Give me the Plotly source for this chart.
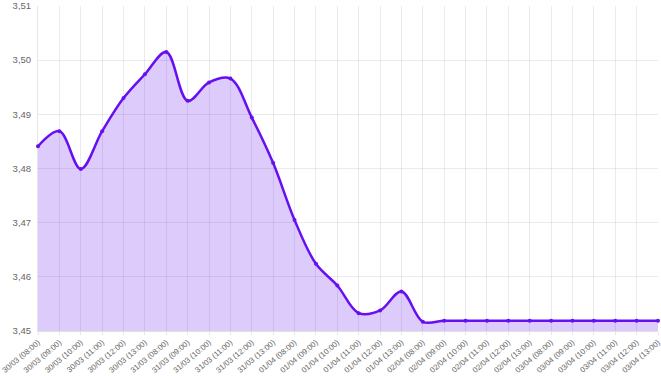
import plotly.graph_objects as go

days = ["30/03", "31/03", "01/04", "02/04", "03/04"]
hours = ["08:00", "09:00", "10:00", "11:00", "12:00", "13:00"]
labels = [f"{d} ({h})" for d in days for h in hours]

values = [3.4841, 3.4869, 3.4799, 3.4869, 3.4930, 3.4974,
          3.5015, 3.4925, 3.4959, 3.4966, 3.4894, 3.4810,
          3.4705, 3.4624, 3.4584, 3.4533, 3.4538, 3.4573,
          3.4517, 3.4519, 3.4519, 3.4519, 3.4519, 3.4519,
          3.4519, 3.4519, 3.4519, 3.4519, 3.4519, 3.4519]

y_ticks = [3.45, 3.46, 3.47, 3.48, 3.49, 3.50, 3.51]

line_color = "#6610f2"
fill_color = "rgba(102,16,242,0.22)"

fig = go.Figure()
fig.add_trace(go.Scatter(
    x=list(range(len(labels))), y=values,
    mode="lines+markers",
    line=dict(color=line_color, width=2.5, shape="spline", smoothing=1.0),
    marker=dict(color=line_color, size=4),
    fill="tozeroy", fillcolor=fill_color,
    hoverinfo="skip",
    cliponaxis=False,
))

fig.update_layout(
    width=661, height=376,
    margin=dict(l=38, r=3, t=6, b=45),
    paper_bgcolor="white", plot_bgcolor="white",
    showlegend=False,
    separators=",.",
    font=dict(family="Liberation Sans, Arial, sans-serif", size=10, color="#666"),
)
fig.update_xaxes(
    range=[0, len(labels) - 1],
    tickmode="array", tickvals=list(range(len(labels))), ticktext=labels,
    tickangle=-40, tickfont=dict(size=7.8, color="#666"),
    showgrid=True, gridcolor="rgba(0,0,0,0.08)", gridwidth=1,
    ticks="outside", ticklen=3, tickcolor="rgba(0,0,0,0.1)",
    ticklabelstandoff=0, ticklabeloverflow="allow",
    zeroline=False, showline=True, linecolor="rgba(0,0,0,0.12)",
    automargin=False,
)
fig.update_yaxes(
    range=[3.45, 3.51],
    tickmode="array", tickvals=y_ticks, tickformat=".2f",
    tickfont=dict(size=9.5, color="#666"),
    showgrid=True, gridcolor="rgba(0,0,0,0.08)", gridwidth=1,
    ticks="outside", ticklen=4, tickcolor="rgba(0,0,0,0)",
    zeroline=False, showline=True, linecolor="rgba(0,0,0,0.1)",
    automargin=False,
)

fig.write_html("out.html")
